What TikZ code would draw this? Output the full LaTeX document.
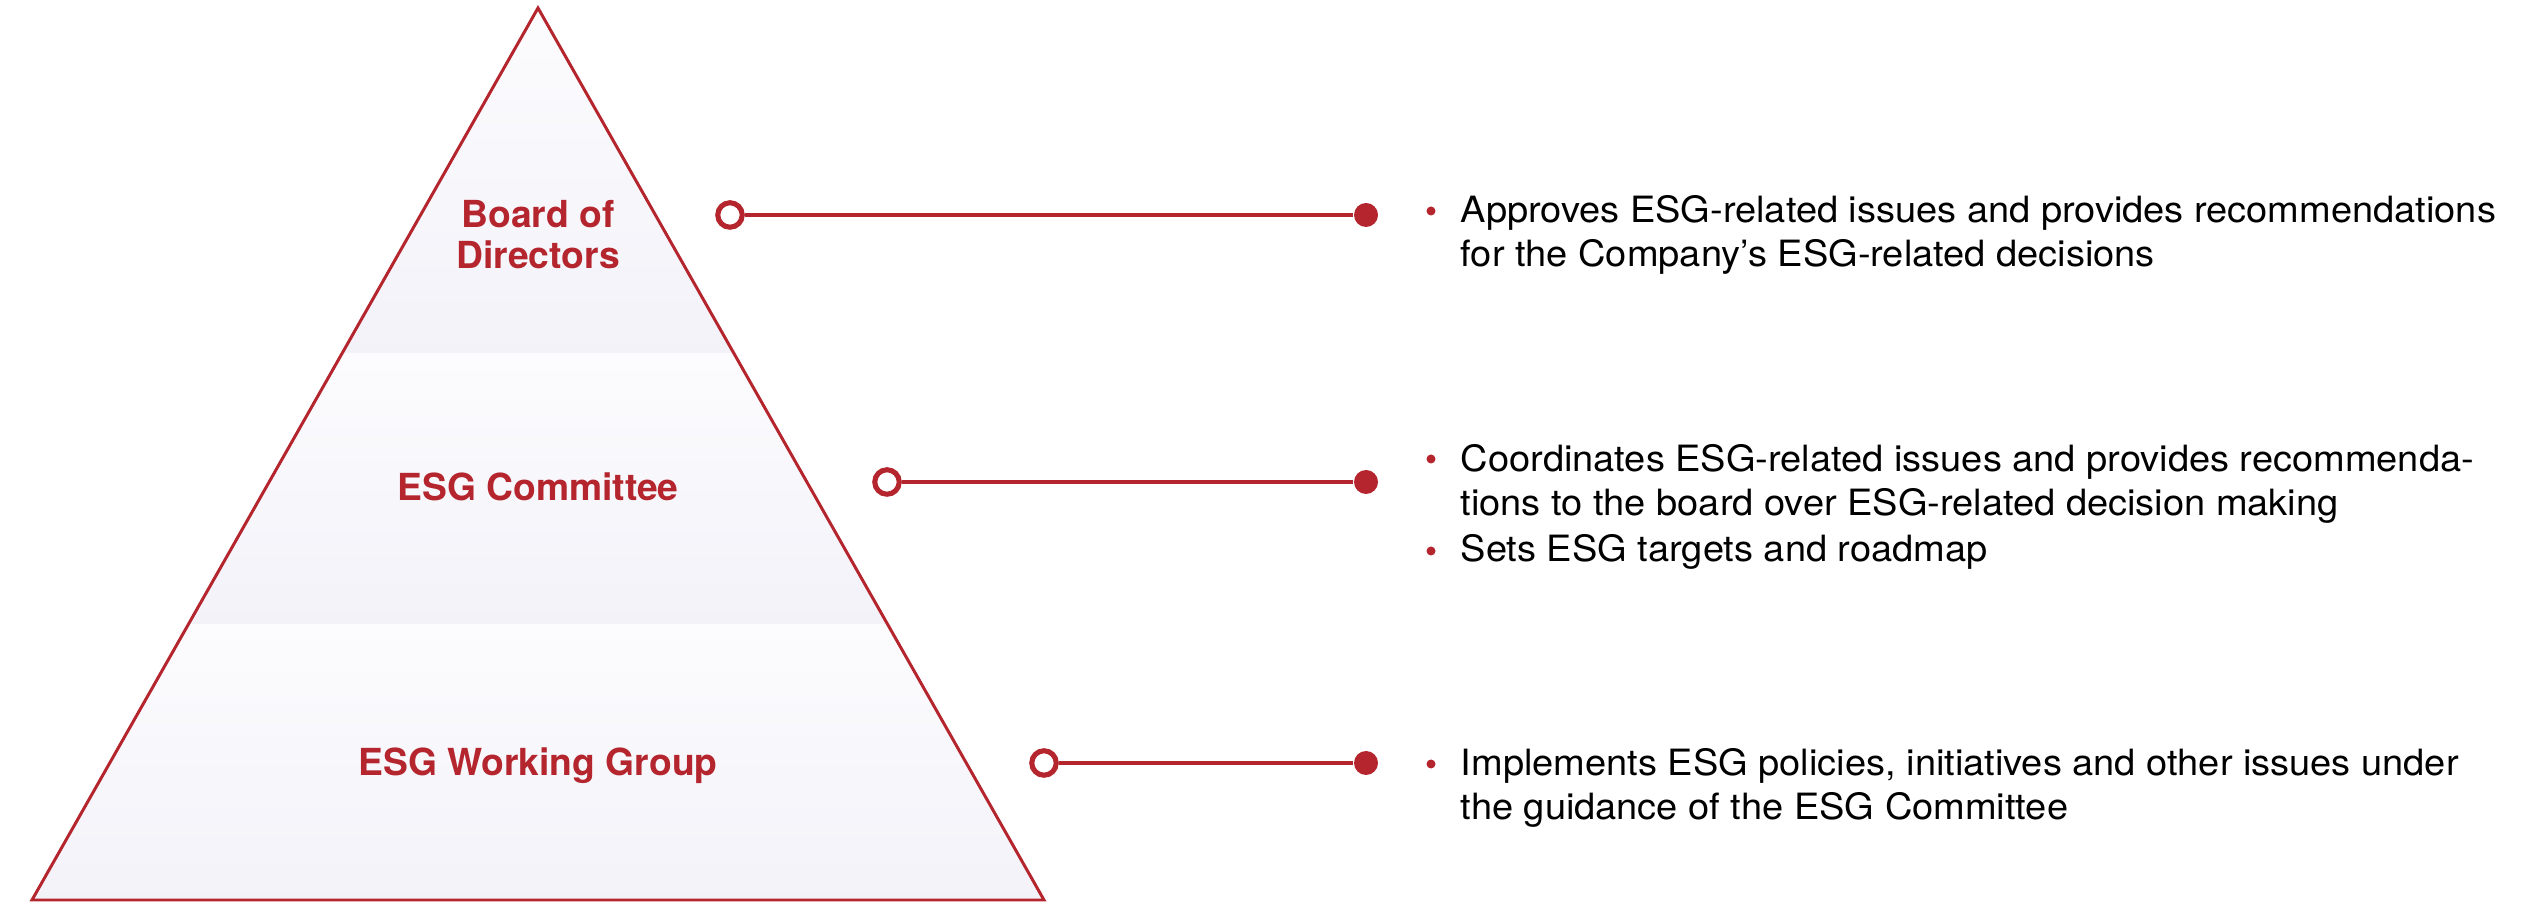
\documentclass[tikz,border=0pt]{standalone}
\usepackage{fontspec}
\setmainfont{TeX Gyre Heros}
\newfontfamily\descfont[FakeStretch=1.05]{TeX Gyre Heros}
\usetikzlibrary{positioning}
\definecolor{esgred}{RGB}{180,37,46}
\definecolor{esglav}{RGB}{243,242,249}
\definecolor{esgpale}{RGB}{252,252,254}

\begin{document}
\begin{tikzpicture}[x=0.1mm, y=-0.1mm,
    tier/.style = {text=esgred, font=\fontsize{10.6}{11.7}\selectfont\bfseries, align=center},
    ring/.style = {circle, draw=esgred, line width=1.45pt, fill=white, inner sep=0pt, minimum size=2.45mm},
    dot/.style = {circle, fill=esgred, inner sep=0pt, minimum size=2.4mm},
    bullet/.style = {circle, fill=esgred, inner sep=0pt, minimum size=0.9mm},
    desc/.style = {font=\descfont\fontsize{10.3}{12.8}\selectfont, align=left, inner sep=0pt, anchor=base west},
    link/.style = {esgred, line width=0.9pt}]
  \useasboundingbox (0,0) rectangle (2545,906);
  \coordinate (apex) at (538,8);
  \coordinate (bl) at (32,900);
  \coordinate (br) at (1044,900);

  \begin{scope}
    \clip (apex) -- (bl) -- (br) -- cycle;
    \shade [top color=esgpale, bottom color=esglav] (0,0) rectangle (1100,354);
    \shade [top color=esgpale, bottom color=esglav] (0,354) rectangle (1100,625);
    \shade [top color=esgpale, bottom color=esglav] (0,625) rectangle (1100,906);
  \end{scope}
  \draw [esgred, line width=0.85pt, line join=miter] (apex) -- (bl) -- (br) -- cycle;

  \node (board) [tier] at (538,235) {Board of\\Directors};
  \node (committee) [tier] at (538,487) {ESG Committee};
  \node (working) [tier] at (538,766) {ESG Working Group};

  \node (ringA) [ring] at (730,215) {};
  \node (ringB) [ring] at (887,482) {};
  \node (ringC) [ring] at (1044,763) {};
  \node (dotA) [dot] at (1366,215) {};
  \node (dotB) [dot] at (1366,482) {};
  \node (dotC) [dot] at (1366,763) {};

  \path [link]
    (ringA) edge (dotA)
    (ringB) edge (dotB)
    (ringC) edge (dotC);

  \node (bulletA) [bullet] at (1431,211) {};
  \node (bulletB) [bullet] at (1431,459) {};
  \node (bulletC) [bullet] at (1431,551) {};
  \node (bulletD) [bullet] at (1431,764) {};

  \node (descA) [desc] at (1460,267) {Approves ESG-related issues and provides recommendations\\for the Company’s ESG-related decisions};
  \node (descB) [desc] at (1460,516) {Coordinates ESG-related issues and provides recommenda-\\tions to the board over ESG-related decision making};
  \node (descC) [desc] at (1460,562) {Sets ESG targets and roadmap};
  \node (descD) [desc] at (1460,820) {Implements ESG policies, initiatives and other issues under\\the guidance of the ESG Committee};
\end{tikzpicture}
\end{document}
